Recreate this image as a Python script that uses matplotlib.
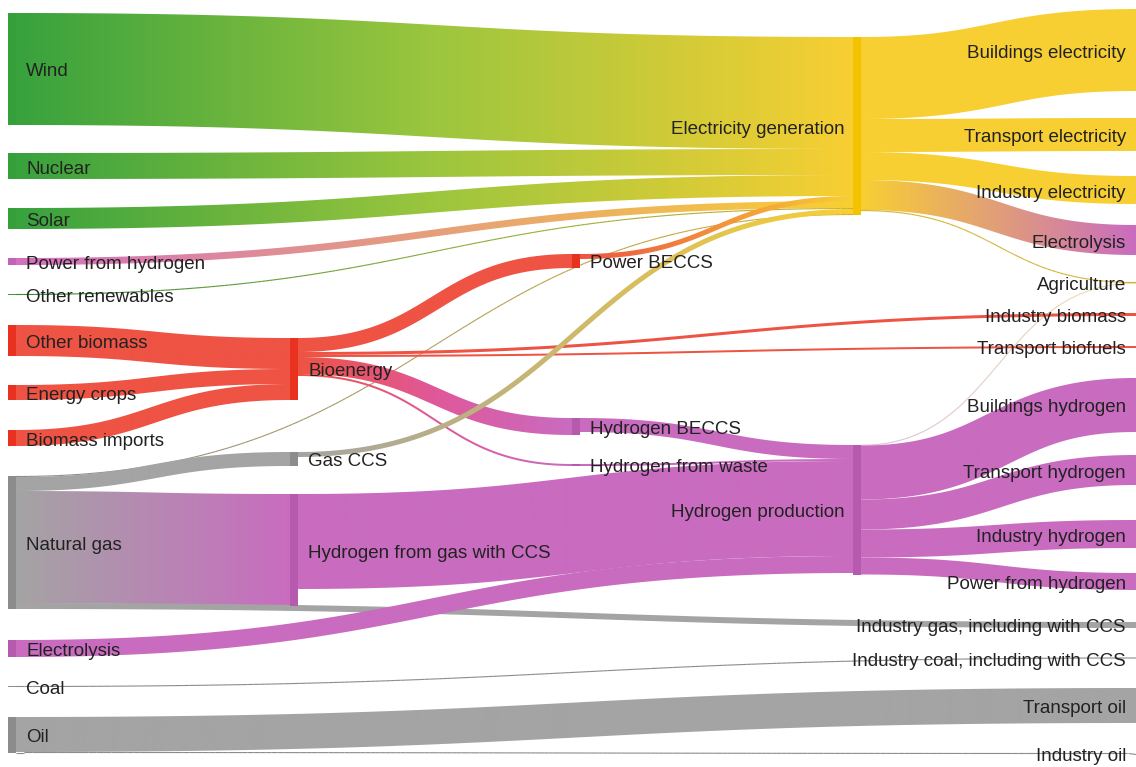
import numpy as np
import matplotlib
matplotlib.use("Agg")
import matplotlib.pyplot as plt
from matplotlib.collections import LineCollection
from matplotlib.patches import Polygon
from matplotlib.colors import to_rgb

plt.rcParams["font.family"] = ["Liberation Sans", "DejaVu Sans"]

# ---- data: energy flows in TWh ----
NODE_KEYS = [
    "wind", "nuclear", "solar", "h2power", "otherren", "otherbio", "crops",
    "imports", "gas", "electrolysis", "coal", "oil",
    "bio", "gasccs", "h2gas",
    "powerbeccs", "h2beccs", "h2waste",
    "elecgen", "h2prod",
    "bld_el", "trn_el", "ind_el", "elys_dem", "agri", "ind_bio", "trn_bio",
    "bld_h2", "trn_h2", "ind_h2", "pow_h2", "ind_gas", "ind_coal", "trn_oil",
    "ind_oil",
]
NODE_LABELS = [
    "Wind", "Nuclear", "Solar", "Power from hydrogen", "Other renewables",
    "Other biomass", "Energy crops", "Biomass imports", "Natural gas",
    "Electrolysis", "Coal", "Oil",
    "Bioenergy", "Gas CCS", "Hydrogen from gas with CCS",
    "Power BECCS", "Hydrogen BECCS", "Hydrogen from waste",
    "Electricity generation", "Hydrogen production",
    "Buildings electricity", "Transport electricity", "Industry electricity",
    "Electrolysis", "Agriculture", "Industry biomass", "Transport biofuels",
    "Buildings hydrogen", "Transport hydrogen", "Industry hydrogen",
    "Power from hydrogen", "Industry gas, including with CCS",
    "Industry coal, including with CCS", "Transport oil", "Industry oil",
]

FLOW_SRC = [
    "wind", "nuclear", "solar", "h2power", "otherren",
    "otherbio", "crops", "imports",
    "gas", "gas", "gas", "gas",
    "electrolysis", "coal", "oil", "oil",
    "bio", "bio", "bio", "bio", "bio",
    "gasccs", "h2gas", "powerbeccs", "h2beccs", "h2waste",
    "elecgen", "elecgen", "elecgen", "elecgen", "elecgen",
    "h2prod", "h2prod", "h2prod", "h2prod", "h2prod",
]
FLOW_DST = [
    "elecgen", "elecgen", "elecgen", "elecgen", "elecgen",
    "bio", "bio", "bio",
    "elecgen", "gasccs", "h2gas", "ind_gas",
    "h2prod", "ind_coal", "trn_oil", "ind_oil",
    "powerbeccs", "ind_bio", "trn_bio", "h2beccs", "h2waste",
    "elecgen", "h2prod", "elecgen", "h2prod", "h2prod",
    "bld_el", "trn_el", "ind_el", "elys_dem", "agri",
    "agri", "bld_h2", "trn_h2", "ind_h2", "pow_h2",
]
FLOW_TWH = [
    336, 78, 63, 21, 3,
    93, 45, 48,
    3, 42, 336, 18,
    51, 3, 105, 3,
    42, 9, 6, 51, 6,
    15, 285, 15, 42, 6,
    246, 99, 84, 90, 3,
    1.5, 162, 90, 84, 51,
]

# ---- layout (pixels) ----
W, H = 1136, 767
PX_PER_TWH = 1 / 3
COL_X = [8, 290, 572, 853, 1136]
BAR_W = 8

NODE_COL = dict(zip(NODE_KEYS, [0] * 12 + [1] * 3 + [2] * 3 + [3] * 2 + [4] * 15))
NODE_TOP = {
    "wind": 13, "nuclear": 153, "solar": 208, "h2power": 258, "otherren": 294,
    "otherbio": 325, "crops": 385, "imports": 430, "gas": 476,
    "electrolysis": 640, "coal": 686, "oil": 717,
    "bio": 338, "gasccs": 452, "h2gas": 494,
    "powerbeccs": 254, "h2beccs": 418, "h2waste": 464,
    "elecgen": 37, "h2prod": 445,
    "bld_el": 9, "trn_el": 118, "ind_el": 176, "elys_dem": 225, "agri": 282,
    "ind_bio": 313, "trn_bio": 346, "bld_h2": 378, "trn_h2": 455,
    "ind_h2": 520, "pow_h2": 573, "ind_gas": 622, "ind_coal": 657.5,
    "trn_oil": 688, "ind_oil": 753,
}

GREEN, YELLOW, PINK, RED, GREY = "#38a23d", "#f8cf33", "#c96cc0", "#ee5344", "#a4a4a4"
GROUP = {
    GREEN: ["wind", "nuclear", "solar", "otherren"],
    YELLOW: ["elecgen", "bld_el", "trn_el", "ind_el", "agri"],
    PINK: ["h2power", "electrolysis", "h2gas", "h2beccs", "h2waste", "h2prod",
           "elys_dem", "bld_h2", "trn_h2", "ind_h2", "pow_h2"],
    RED: ["otherbio", "crops", "imports", "bio", "powerbeccs", "ind_bio", "trn_bio"],
    GREY: ["gas", "gasccs", "coal", "oil", "ind_gas", "ind_coal", "trn_oil", "ind_oil"],
}
NODE_COLOR = {k: c for c, keys in GROUP.items() for k in keys}
NODE_COLOR["h2power"] = "#d470c2"
BAR_COLOR = {GREEN: "#35a03a", YELLOW: "#f4c300", PINK: "#b65aad",
             RED: "#e8321f", GREY: "#8c8c8c"}
# extra middle stop for some colour pairs so the blend stays bright
MID_STOP = {(GREEN, YELLOW): "#9cc63e", (RED, PINK): "#e0589a"}


def ramp(ca, cb, n=256):
    f = np.linspace(0, 1, n)[:, None]
    a, b = np.array(to_rgb(ca)), np.array(to_rgb(cb))
    mid = MID_STOP.get((ca, cb))
    if mid is None:
        return a * (1 - f) + b * f
    m = np.array(to_rgb(mid))
    lo = a * (1 - 2 * f) + m * (2 * f)
    hi = m * (2 - 2 * f) + b * (2 * f - 1)
    return np.where(f < 0.5, lo, hi)


def flow_edges(xa, ya, xb, yb, w, n=200):
    t = np.linspace(0, 1, n)
    xm = (xa + xb) / 2
    x = (1 - t) ** 3 * xa + 3 * (1 - t) ** 2 * t * xm + 3 * (1 - t) * t ** 2 * xm + t ** 3 * xb
    y = ya + (yb - ya) * (3 * t ** 2 - 2 * t ** 3)
    dx = 3 * (1 - t) ** 2 * (xm - xa) + 3 * t ** 2 * (xb - xm)
    dy = (yb - ya) * (6 * t - 6 * t ** 2)
    L = np.hypot(dx, dy)
    nx, ny = -dy / L * w / 2, dx / L * w / 2
    return x, y, x + nx, y + ny, x - nx, y - ny


fig = plt.figure(figsize=(W / 100, H / 100), dpi=100)
ax = fig.add_axes([0, 0, 1, 1])

# node heights from flows
inflow = {k: 0.0 for k in NODE_KEYS}
outflow = {k: 0.0 for k in NODE_KEYS}
for s, d, v in zip(FLOW_SRC, FLOW_DST, FLOW_TWH):
    outflow[s] += v
    inflow[d] += v
height = {k: max(inflow[k], outflow[k]) * PX_PER_TWH for k in NODE_KEYS}
centre = {k: NODE_TOP[k] + height[k] / 2 for k in NODE_KEYS}

# stack flows at each node, ordered by the other end's position
flows = list(range(len(FLOW_TWH)))
y_out, y_in = {}, {}
for k in NODE_KEYS:
    off = NODE_TOP[k]
    for i in sorted([i for i in flows if FLOW_SRC[i] == k], key=lambda i: centre[FLOW_DST[i]]):
        w = FLOW_TWH[i] * PX_PER_TWH
        y_out[i] = off + w / 2
        off += w
    off = NODE_TOP[k]
    for i in sorted([i for i in flows if FLOW_DST[i] == k], key=lambda i: centre[FLOW_SRC[i]]):
        w = FLOW_TWH[i] * PX_PER_TWH
        y_in[i] = off + w / 2
        off += w

for i in flows:
    s, d = FLOW_SRC[i], FLOW_DST[i]
    w = FLOW_TWH[i] * PX_PER_TWH
    xa = COL_X[NODE_COL[s]] + BAR_W
    xb = COL_X[NODE_COL[d]]
    cs = ramp(NODE_COLOR[s], NODE_COLOR[d])
    x, y, x1, y1, x2, y2 = flow_edges(xa, y_out[i], xb, y_in[i], w)
    if w < 1.6:
        # hairline flows: a gradient line along the centre, slightly darkened
        pts = np.column_stack([x, y])
        segs = np.stack([pts[:-1], pts[1:]], axis=1)
        fr = ((x[:-1] + x[1:]) / 2 - xa) / (xb - xa)
        cols = cs[np.clip((fr * 255).astype(int), 0, 255)] * 0.85
        alpha = 0.4 if w < 1 else 1.0
        ax.add_collection(LineCollection(segs, colors=cols, linewidths=0.8,
                                         alpha=alpha, zorder=2))
        continue
    outline = np.vstack([np.column_stack([x1, y1]), np.column_stack([x2, y2])[::-1]])
    poly = Polygon(outline, closed=True, facecolor="none", edgecolor="none")
    ax.add_patch(poly)
    im = ax.imshow(cs[None, :, :], extent=(xa, xb, max(y1.max(), y2.max()) + 1,
                                           min(y1.min(), y2.min()) - 1),
                   aspect="auto", interpolation="bilinear", zorder=2)
    im.set_clip_path(poly)

# node bars and labels
for k, label in zip(NODE_KEYS, NODE_LABELS):
    col = NODE_COL[k]
    if col < 4:
        bar = "#c462b8" if k == "h2power" else BAR_COLOR[NODE_COLOR[k]]
        ax.add_patch(plt.Rectangle((COL_X[col], NODE_TOP[k]), BAR_W, height[k],
                                   facecolor=bar, edgecolor="none", zorder=3))
    if col < 3:
        x, ha = COL_X[col] + BAR_W + 10, "left"
    elif col == 3:
        x, ha = COL_X[col] - 8, "right"
    else:
        x, ha = W - 10, "right"
    ax.text(x, centre[k] + 3, label, ha=ha, va="center", fontsize=13.5,
            color="#222222", zorder=5)

ax.set_xlim(0, W)
ax.set_ylim(H, 0)
ax.axis("off")
fig.savefig("out.png", dpi=100, facecolor="white")
